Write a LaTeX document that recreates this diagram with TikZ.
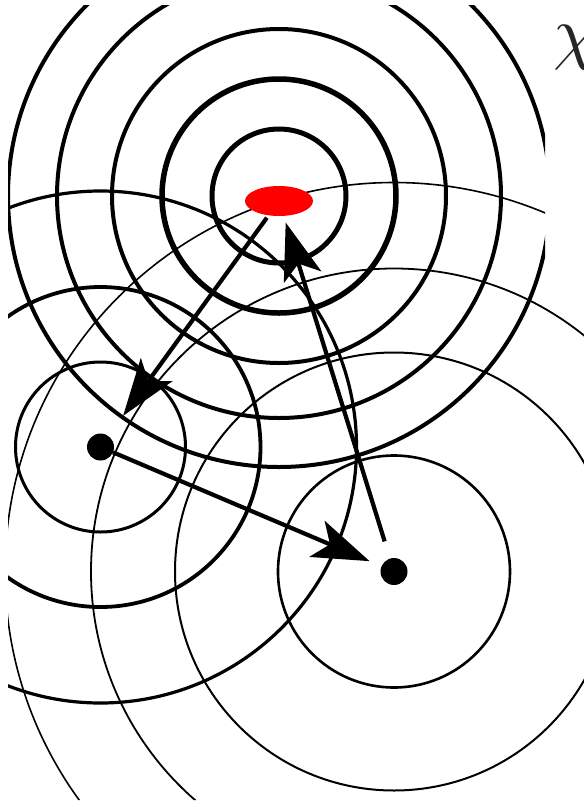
\documentclass[tikz,border=0pt]{standalone}
\usetikzlibrary{arrows.meta,shapes.geometric}
\begin{document}
\begin{tikzpicture}[x=1pt,y=-1pt,
  ring/.style={draw=black, line width=#1},
  dotnode/.style={circle, fill=black, inner sep=0pt, outer sep=0pt, minimum size=27pt},
  srcnode/.style={ellipse, fill=red, inner sep=0pt, outer sep=0pt, minimum width=68pt, minimum height=30pt},
  flow/.style={line width=4.2pt, -{Stealth[length=57pt,width=39pt,inset=14pt]}}]
\useasboundingbox (0,0) rectangle (584,807);
\coordinate (S) at (279,196);
\coordinate (L) at (100.5,447);
\coordinate (R) at (394,571.5);
\begin{scope}
\clip (8,5) -- (545,5) -- (545,260) -- (584,260) -- (584,800) -- (8,800) -- cycle;
% rings around the right receiver
\draw[ring=1.6pt] (R) circle[radius=389pt];
\draw[ring=1.8pt] (R) circle[radius=303pt];
\draw[ring=2pt] (R) circle[radius=219pt];
\draw[ring=2.6pt] (R) circle[radius=116pt];
% rings around the left receiver
\draw[ring=3.2pt] (L) circle[radius=256pt];
\draw[ring=3.8pt] (L) circle[radius=160pt];
\draw[ring=3pt] (L) circle[radius=85pt];
% rings around the source
\draw[ring=4pt] (S) circle[radius=271pt];
\draw[ring=4pt] (S) circle[radius=222pt];
\draw[ring=4pt] (S) circle[radius=167pt];
\draw[ring=5.5pt] (S) circle[radius=117pt];
\draw[ring=5pt] (S) circle[radius=67pt];
\end{scope}
\node[srcnode] (src) at (279,201) {};
\node[dotnode] (dotL) at (L) {};
\node[dotnode] (dotR) at (R) {};
\draw[flow, shorten <=3pt, shorten >=25pt] (src) -- (dotL);
\draw[flow, shorten >=13pt] (dotL) -- (dotR);
\draw[flow, shorten <=18pt, shorten >=7pt] (dotR) -- (src);
\node[anchor=base west, inner sep=0pt, scale=7.2, text=black!85] (chi) at (552,56) {$\chi$};
\end{tikzpicture}
\end{document}
